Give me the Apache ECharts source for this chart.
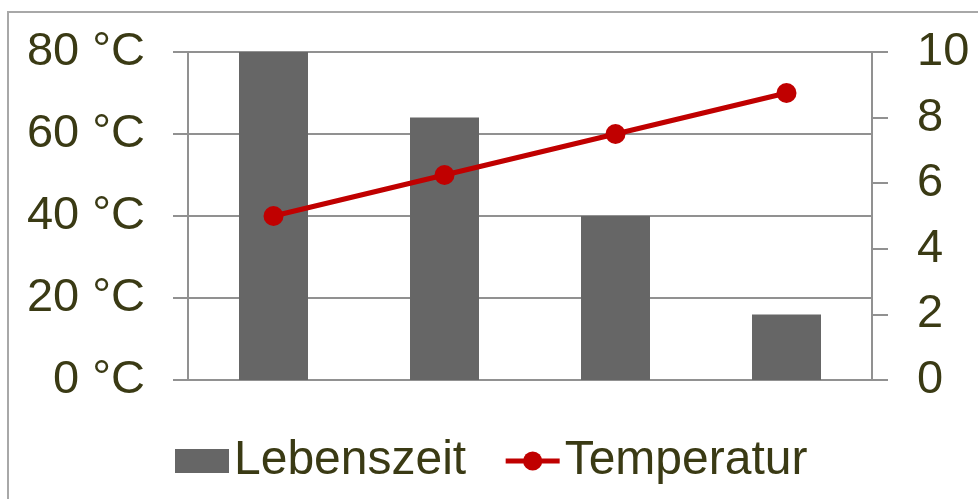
<!DOCTYPE html>
<html>
<head>
<meta charset="utf-8">
<script src="https://cdn.jsdelivr.net/npm/echarts@6/dist/echarts.min.js"></script>
<style>
    html, body { margin: 0; padding: 0; background: #fff; }
    #chart { width: 978px; height: 499px; }
</style>
</head>
<body>
<div id="chart"></div>
<script>
const categories = ['1', '2', '3', '4']
const lebenszeit = [10, 8, 5, 2]
const temperatur = [40, 50, 60, 70]

const textColor = '#3a3a14'
const axisColor = '#919191'
const font = 'Liberation Sans, Arial, sans-serif'

const chart = echarts.init(document.getElementById('chart'))

chart.setOption({
    animation: false,
    backgroundColor: '#fff',
    graphic: [{
        type: 'rect',
        shape: { x: 8, y: 12, width: 1000, height: 600 },
        style: { fill: 'none', stroke: '#a8a8a8', lineWidth: 2 }
    }],
    grid: {
        left: 188,
        right: 106,
        top: 52,
        bottom: 119
    },
    legend: {
        left: 175,
        top: 437,
        padding: 0,
        itemWidth: 54,
        itemHeight: 24,
        itemGap: 37,
        lineStyle: { width: 5 },
        textStyle: { fontSize: 48, color: textColor, fontFamily: font },
        data: [{ name: 'Lebenszeit', icon: 'rect' }, 'Temperatur']
    },
    xAxis: {
        type: 'category',
        data: categories,
        boundaryGap: true,
        axisLine: { show: true, lineStyle: { color: axisColor, width: 2 } },
        axisTick: { show: false },
        axisLabel: { show: false }
    },
    yAxis: [{
        type: 'value',
        min: 0,
        max: 80,
        interval: 20,
        position: 'left',
        axisLine: { show: true, lineStyle: { color: axisColor, width: 2 } },
        axisTick: { show: true, length: 15, lineStyle: { color: axisColor, width: 2 } },
        splitLine: { show: true, lineStyle: { color: axisColor, width: 2 } },
        axisLabel: {
            formatter: '{value} °C',
            margin: 43,
            fontSize: 47,
            color: textColor,
            fontFamily: font
        }
    }, {
        type: 'value',
        min: 0,
        max: 10,
        interval: 2,
        position: 'right',
        axisLine: { show: true, lineStyle: { color: axisColor, width: 2 } },
        axisTick: { show: true, length: 16, lineStyle: { color: axisColor, width: 2 } },
        splitLine: { show: false },
        axisLabel: {
            margin: 45,
            fontSize: 47,
            color: textColor,
            fontFamily: font
        }
    }],
    series: [{
        name: 'Lebenszeit',
        type: 'bar',
        yAxisIndex: 1,
        barWidth: 69,
        itemStyle: { color: '#666666' },
        data: lebenszeit
    }, {
        name: 'Temperatur',
        type: 'line',
        yAxisIndex: 0,
        symbol: 'circle',
        symbolSize: 20,
        lineStyle: { color: '#c00000', width: 5 },
        itemStyle: { color: '#c00000' },
        data: temperatur
    }]
})
</script>
</body>
</html>
